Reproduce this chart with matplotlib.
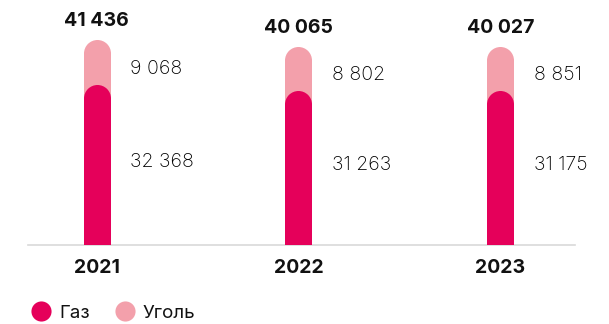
import matplotlib
matplotlib.use("Agg")
import matplotlib.pyplot as plt
from matplotlib.lines import Line2D

plt.rcParams['font.family'] = ['Inter', 'DejaVu Sans']

years = ['2021', '2022', '2023']
gas = [32368, 31263, 31175]
coal = [9068, 8802, 8851]
totals = [41436, 40065, 40027]

GAS_COLOR = '#E5005A'
COAL_COLOR = '#F3A0AB'


def fmt(v):
    return f"{v:,}".replace(",", " ")


W, H, DPI = 609, 324, 100
fig = plt.figure(figsize=(W / DPI, H / DPI), dpi=DPI)
# axes: left 28px, right 575px, baseline 245px from top
ax = fig.add_axes([28 / W, 79 / H, 547 / W, 245 / H])
ax.set_xlim(-0.34, 2.37)
ax.set_ylim(0, 49520)
for s in ['top', 'left', 'right']:
    ax.spines[s].set_visible(False)
ax.spines['bottom'].set_color('#d9d9d9')
ax.spines['bottom'].set_linewidth(1.2)
ax.set_yticks([])
ax.set_xticks(range(len(years)))
ax.set_xticklabels(years, fontsize=14, fontweight='bold', color='#111111')
ax.tick_params(axis='x', length=0, pad=10)

bar_px = 27
lw_pt = bar_px * 72 / DPI
# cap radius in data units
r = (bar_px / 2) * ax.get_ylim()[1] / 245


def rounded_bar(x, top, color, z):
    ax.plot([x, x], [0, top - r], color=color, lw=lw_pt,
            solid_capstyle='butt', zorder=z)
    ax.plot([x], [top - r], marker='o', ms=lw_pt, color=color,
            markeredgewidth=0, zorder=z)


for i in range(len(years)):
    rounded_bar(i, totals[i], COAL_COLOR, 2)
    rounded_bar(i, gas[i], GAS_COLOR, 3)
    ax.annotate(fmt(totals[i]), (i, totals[i]), xytext=(0, 7),
                textcoords='offset points', ha='center', va='bottom',
                fontsize=14, fontweight='bold', color='#111111',
                annotation_clip=False)
    ax.text(i + 0.165, gas[i] + coal[i] * 0.36, fmt(coal[i]),
            ha='left', va='center', fontsize=14, fontweight='light',
            color='#000000')
    ax.text(i + 0.165, gas[i] * 0.52, fmt(gas[i]),
            ha='left', va='center', fontsize=14, fontweight='light',
            color='#000000')

handles = [
    Line2D([], [], ls='', marker='o', ms=14.5, color=GAS_COLOR, markeredgewidth=0),
    Line2D([], [], ls='', marker='o', ms=14.5, color=COAL_COLOR, markeredgewidth=0),
]
fig.legend(handles, ['Газ', 'Уголь'], loc='center left',
           bbox_to_anchor=(13 / W, 1 - 313 / H), ncol=2, frameon=False,
           fontsize=13.5, handletextpad=0.35, columnspacing=1.3,
           handlelength=1.2, labelcolor='#111111')

fig.savefig('out.png', dpi=DPI)
